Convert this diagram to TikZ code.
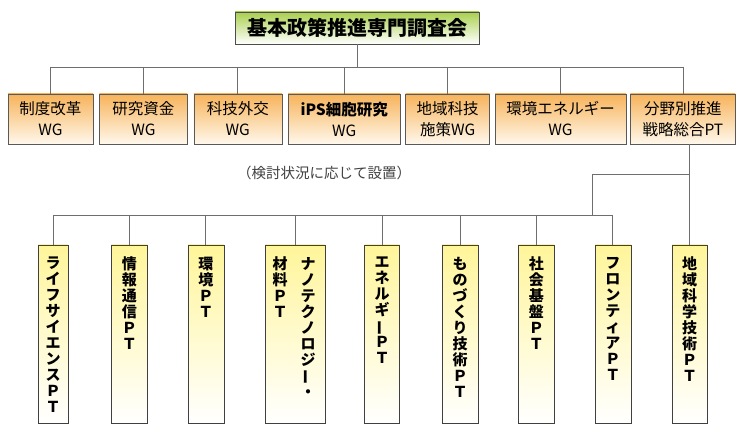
\documentclass[tikz,border=0pt]{standalone}
\usepackage{fontspec,graphicx,xcolor}
\setmainfont{Noto Sans CJK JP}
\usetikzlibrary{positioning}

\definecolor{titlegreen}{HTML}{A9CF4E}
\definecolor{wgorange}{HTML}{F7B35A}
\definecolor{wglight}{HTML}{FFF8EC}
\definecolor{ptyellow}{HTML}{FFF59A}
\definecolor{linegray}{HTML}{6E6E6E}

\newcommand{\tbar}{\rotatebox[origin=c]{90}{ー}}

\begin{document}
\begin{tikzpicture}[
        x=1pt, y=-1pt,
        topbox/.style={draw=black!70, top color=titlegreen, bottom color=white, minimum width=244pt, minimum height=32pt, inner sep=0pt, font=\bfseries\fontsize{20}{24}\selectfont},
        wgbox/.style={draw=black!65, top color=wgorange, bottom color=wglight, minimum height=50pt, inner sep=0pt, align=center, font=\fontsize{15.5}{21}\selectfont},
        ptbox/.style={draw=black!75, top color=ptyellow, bottom color=white, minimum height=178pt, inner sep=0pt},
        tate/.style={anchor=north, align=center, inner sep=0pt, font=\bfseries\fontsize{15}{16}\selectfont},
        conn/.style={draw=linegray, line width=0.8pt}
    ]
    \useasboundingbox (0,0) rectangle (744,435);

    % Kopf
    \node (top) [topbox] at (357,28) {基本政策推進専門調査会};

    % Arbeitsgruppen
    \node (wg1) [wgbox, minimum width=85pt] at (50.5,119) {制度改革\\WG};
    \node (wg2) [wgbox, minimum width=88pt, right=6pt of wg1] {研究資金\\WG};
    \node (wg3) [wgbox, minimum width=88pt, right=6pt of wg2] {科技外交\\WG};
    \node (wg4) [wgbox, minimum width=112pt, right=6pt of wg3] {\bfseries iPS細胞研究\\WG};
    \node (wg5) [wgbox, minimum width=84pt, right=5pt of wg4] {地域科技\\施策WG};
    \node (wg6) [wgbox, minimum width=131pt, right=5pt of wg5] {環境エネルギー\\WG};
    \node (wg7) [wgbox, minimum width=105pt, right=4pt of wg6] {分野別推進\\戦略総合PT};

    \node (note) [font=\fontsize{14.5}{16}\selectfont, text=black!75] at (324,173) {（検討状況に応じて設置）};

    % Projektteams
    \node (pt1) [ptbox, minimum width=30pt] at (53,334) {};
    \node (pt2) [ptbox, minimum width=36pt, right=43pt of pt1] {};
    \node (pt3) [ptbox, minimum width=36pt, right=40pt of pt2] {};
    \node (pt4) [ptbox, minimum width=60pt, right=41pt of pt3] {};
    \node (pt5) [ptbox, minimum width=35pt, right=39pt of pt4] {};
    \node (pt6) [ptbox, minimum width=36pt, right=42pt of pt5] {};
    \node (pt7) [ptbox, minimum width=36pt, right=40pt of pt6] {};
    \node (pt8) [ptbox, minimum width=36pt, right=40pt of pt7] {};
    \node (pt9) [ptbox, minimum width=35pt, right=41pt of pt8] {};

    \node (pt1t) [tate] at ([yshift=-12pt]pt1.north) {ラ\\イ\\フ\\サ\\イ\\エ\\ン\\ス\\Ｐ\\Ｔ};
    \node (pt2t) [tate] at ([yshift=-12pt]pt2.north) {情\\報\\通\\信\\Ｐ\\Ｔ};
    \node (pt3t) [tate] at ([yshift=-12pt]pt3.north) {環\\境\\Ｐ\\Ｔ};
    \node (pt4a) [tate] at ([xshift=13pt,yshift=-12pt]pt4.north) {ナ\\ノ\\テ\\ク\\ノ\\ロ\\ジ\\\tbar\\・};
    \node (pt4b) [tate] at ([xshift=-15pt,yshift=-12pt]pt4.north) {材\\料\\Ｐ\\Ｔ};
    \node (pt5t) [tate] at ([yshift=-12pt]pt5.north) {エ\\ネ\\ル\\ギ\\\tbar\\Ｐ\\Ｔ};
    \node (pt6t) [tate] at ([yshift=-12pt]pt6.north) {も\\の\\づ\\く\\り\\技\\術\\Ｐ\\Ｔ};
    \node (pt7t) [tate] at ([yshift=-12pt]pt7.north) {社\\会\\基\\盤\\Ｐ\\Ｔ};
    \node (pt8t) [tate] at ([yshift=-12pt]pt8.north) {フ\\ロ\\ン\\テ\\ィ\\ア\\Ｐ\\Ｔ};
    \node (pt9t) [tate] at ([yshift=-12pt]pt9.north) {地\\域\\科\\学\\技\\術\\Ｐ\\Ｔ};

    % Verbindungen
    \coordinate (wgbus) at (0,67);
    \coordinate (ptbus) at (0,215);
    \coordinate (fork) at (592,174);
    \draw[conn] (top) -- (top |- wgbus);
    \draw[conn] (wg1 |- wgbus) -- (wg7 |- wgbus);
    \foreach \i in {1,...,7} \draw[conn] (wg\i |- wgbus) -- (wg\i);
    \draw[conn] (pt9 |- wg7.south) -- (pt9);
    \draw[conn] (pt9 |- fork) -- (fork) -- (fork |- ptbus);
    \draw[conn] (pt1 |- ptbus) -- (pt8 |- ptbus);
    \foreach \i in {1,...,8} \draw[conn] (pt\i |- ptbus) -- (pt\i);

\end{tikzpicture}
\end{document}
